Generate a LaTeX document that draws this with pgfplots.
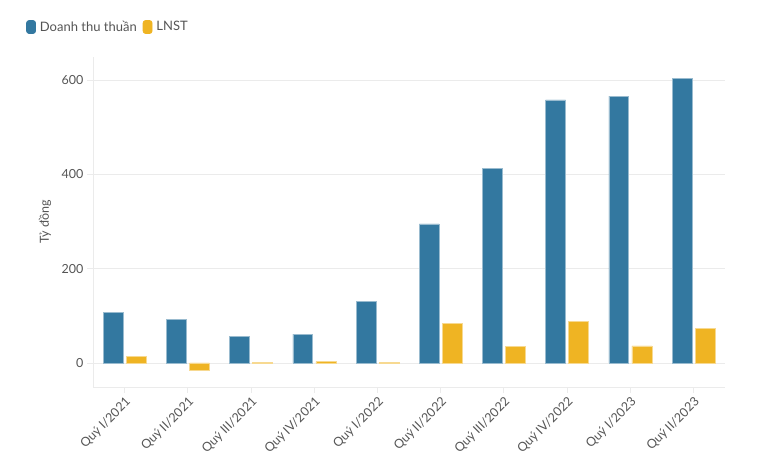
\documentclass[border=0pt]{standalone}
\usepackage{pgfplots}
\pgfplotsset{compat=1.18}
\usepackage{fontspec}
\setmainfont{Lato}
\definecolor{cblue}{HTML}{3378A0}
\definecolor{cyel}{HTML}{EFB423}
\definecolor{ctxt}{HTML}{555555}
\definecolor{cgrid}{HTML}{EBEBEB}
\begin{document}
\begin{tikzpicture}[x=1pt,y=1pt]
\path[use as bounding box] (-93,-88) rectangle (682,387);
\begin{axis}[
  at={(0,0)}, anchor=south west,
  scale only axis, width=632pt, height=330pt,
  xmin=-0.5, xmax=9.5, ymin=-51, ymax=649,
  axis x line*=bottom, axis y line*=left,
  axis line style={cgrid, line width=0.8pt, -},
  xtick={0,...,9},
  xticklabels={Quý I/2021, Quý II/2021, Quý III/2021, Quý IV/2021, Quý I/2022, Quý II/2022, Quý III/2022, Quý IV/2022, Quý I/2023, Quý II/2023},
  xticklabel style={rotate=45, anchor=north east, font=\fontsize{12.5}{14}\selectfont, text=ctxt, inner sep=2pt},
  ytick={0,200,400,600},
  yticklabel style={font=\fontsize{12.5}{14}\selectfont, text=ctxt},
  /pgf/number format/assume math mode=true,
  ymajorgrids, grid style={cgrid, line width=0.8pt},
  tick align=outside, major tick length=6pt, tick style={cgrid, line width=0.8pt},
  ylabel={Tỷ đồng},
  ylabel style={at={(rel axis cs:-0.076,0.5)}, anchor=center, font=\fontsize{12.5}{14}\selectfont, text=ctxt},
  legend style={at={(rel axis cs:0,1)}, anchor=west, xshift=-70pt, yshift=30pt, draw=none, fill=none, font=\fontsize{13}{15}\selectfont, text=ctxt, legend columns=-1, /tikz/every odd column/.append style={column sep=2pt}, /tikz/every even column/.append style={column sep=4pt}},
  legend cell align=left,
]
\addplot[ybar, bar width=0.315, bar shift=-0.18, fill=cblue, draw=cblue!50!white, line width=0.7pt,
  legend image code/.code={\fill[cblue, rounded corners=2.5pt] (0pt,-6.5pt) rectangle (9pt,6.5pt);}]
  coordinates {(0,108) (1,93) (2,57) (3,61) (4,131) (5,295) (6,413) (7,558) (8,566) (9,604)};
\addlegendentry{Doanh thu thuần}
\addplot[ybar, bar width=0.315, bar shift=0.185, fill=cyel, draw=cyel!50!white, line width=0.7pt,
  legend image code/.code={\fill[cyel, rounded corners=2.5pt] (0pt,-6.5pt) rectangle (9pt,6.5pt);}]
  coordinates {(0,13) (1,-15) (2,2) (3,3) (4,1) (5,84) (6,35) (7,89) (8,36) (9,73)};
\addlegendentry{LNST}
\end{axis}
\end{tikzpicture}
\end{document}
